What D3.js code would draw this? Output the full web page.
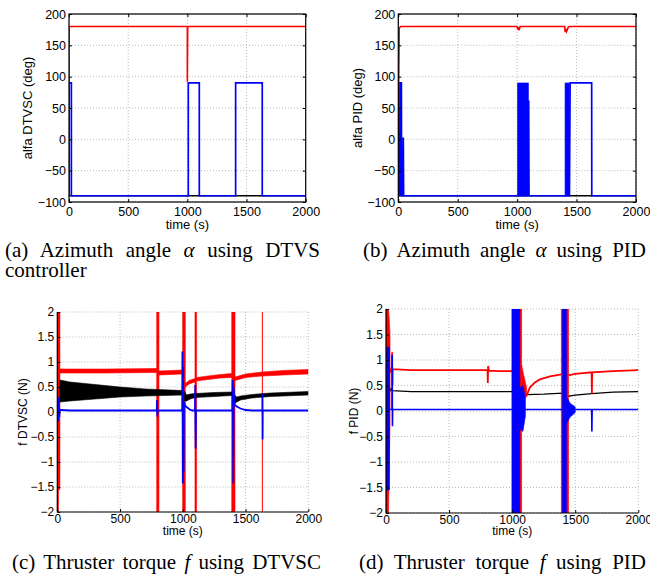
<!DOCTYPE html>
<html>
<head>
<meta charset="utf-8">
<script src="https://cdn.jsdelivr.net/npm/d3@7"></script>
<style>
  body { margin: 0; background: #fff; }
  svg { display: block; }
  .tick text { font-family: "Liberation Sans", Arial, sans-serif; fill: #000; }
  .lbl { font-family: "Liberation Sans", Arial, sans-serif; fill: #000; }
  .cap { font-family: "Liberation Serif", "Times New Roman", serif; font-size: 21px; fill: #000; }
</style>
</head>
<body>
<svg id="fig" width="650" height="577"></svg>
<script>
// ---- shared axes values ----
const timeDomain = [0, 2000];
const timeTicks = [0, 500, 1000, 1500, 2000];
const alfaTicks = [-100, -50, 0, 50, 100, 150, 200];
const forceTicks = [-2, -1.5, -1, -0.5, 0, 0.5, 1, 1.5, 2];

// ---- (a) alfa, DTVSC ----  points are [time, deg]
const dtvscAlfaBlack = [[0, -90], [2000, -90]];
const dtvscAlfaBlue = [[0, -90], [0, 90], [20, 90], [20, -90], [1008, -90], [1008, 90], [1101, 90], [1101, -90],
  [1408, -90], [1408, 90], [1633, 90], [1633, -90], [2000, -90]];
const dtvscAlfaRed = [[0, 90], [0, 180], [1000, 180], [1000, 92], [1003, 180], [2000, 180]];

// ---- (b) alfa, PID ----  bands are [time, low, high]
const pidAlfaBlack = [[0, -90], [2000, -90]];
const pidAlfaBlueBands = [
  [[2, -90, 90], [26, -90, 90]],
  [[1003, -90, 90], [1095, -90, 90]],
  [[1403, -90, 90], [1440, -90, 90]]
];
const pidAlfaBlue = [[0, -90], [2, 90], [26, 90], [28, -90], [40, -90], [42, 3], [45, -90], [1003, -90], [1095, -90],
  [1097, 62], [1100, -90], [1403, -90], [1440, -90], [1442, -25], [1446, 90], [1627, 90], [1628, -90], [2000, -90]];
const pidAlfaRed = [[0, 10], [8, 178], [20, 180], [1000, 180], [1005, 175], [1010, 179], [1016, 174], [1025, 180],
  [1400, 180], [1404, 171], [1410, 176], [1416, 172], [1430, 179], [1440, 180], [2000, 180]];

// ---- (c) f, DTVSC ----  points are [time, N]
const dtvscForceRedBands = [
  [[0, -2, 2], [9, -2, 2], [11, -1.55, 2], [21, -1.55, 2]],
  [[20, 0.78, 0.86], [400, 0.78, 0.86], [792, 0.79, 0.87]],
  [[792, -2, 2], [810, -2, 2]],
  [[810, 0.74, 0.82], [999, 0.76, 0.84]],
  [[999, -2, 2], [1020, -2, 2]],
  [[1020, 0.5, 0.57], [1050, 0.56, 0.63], [1097, 0.6, 0.67]],
  [[1097, -2, 2], [1110, -2, 2]],
  [[1110, 0.62, 0.69], [1200, 0.65, 0.72], [1300, 0.68, 0.75], [1390, 0.69, 0.77]],
  [[1390, -2, 2], [1416, -2, 2]],
  [[1416, 0.63, 0.7], [1500, 0.69, 0.76], [1633, 0.72, 0.8], [1800, 0.74, 0.83], [2000, 0.76, 0.85]]
];
const dtvscForceRedSpike = [[1634, -2], [1634, 2]];
const dtvscForceBlackBands = [
  [[20, 0.2, 0.64], [100, 0.22, 0.6], [300, 0.26, 0.55], [500, 0.3, 0.5], [700, 0.32, 0.46], [999, 0.34, 0.43]],
  [[1012, 0.22, 0.42], [1030, 0.22, 0.34], [1060, 0.26, 0.36], [1100, 0.29, 0.37], [1250, 0.31, 0.39], [1395, 0.33, 0.4]],
  [[1412, 0.16, 0.34], [1430, 0.2, 0.3], [1460, 0.24, 0.32], [1550, 0.28, 0.35], [1700, 0.31, 0.38], [2000, 0.34, 0.41]]
];
const dtvscForceBlue = [[0, 0.08], [5, 0.3], [8, -0.18], [12, 0.27], [16, -0.1], [20, 0.05], [30, 0.04], [100, 0.03],
  [792, 0.03], [795, 0.24], [797, -0.09], [800, 0.03], [995, 0.03], [997, 1.21], [1000, -1.43], [1003, 0.9],
  [1006, -1.2], [1010, 0.2], [1020, 0.12], [1040, 0.08], [1060, 0.04], [1080, 0.03], [1097, 0.03], [1099, 0.54],
  [1102, -0.73], [1105, 0.03], [1395, 0.03], [1398, 0.64], [1402, -1.43], [1405, 0.5], [1410, 0.15], [1430, 0.11],
  [1460, 0.07], [1500, 0.04], [1550, 0.03], [1634, 0.03], [1635, 0.37], [1636, -0.55], [1637, 0.03], [2000, 0.03]];

// ---- (d) f, PID ----
const pidForceRedBands = [
  [[0, -2, 2], [20, -2, 2], [26, -1.0, 1.8], [32, -0.2, 1.5]],
  [[1009, -2, 2], [1075, -2, 2]],
  [[1075, 0.25, 0.9], [1090, 0.22, 0.72], [1115, 0.28, 0.45]],
  [[1390, -2, 2], [1447, -2, 2]]
];
const pidForceRed = [
  [[32, 0.75], [40, 0.82], [47, 0.8], [49, 1.15], [51, 0.5], [53, 0.82], [200, 0.8], [500, 0.8], [805, 0.8], [807, 0.55],
    [810, 0.88], [815, 0.79], [900, 0.78], [1009, 0.78]],
  [[1115, 0.3], [1140, 0.46], [1180, 0.56], [1220, 0.62], [1300, 0.68], [1390, 0.72]],
  [[1447, 0.7], [1500, 0.73], [1630, 0.76], [1632, 0.34], [1634, 0.76], [1800, 0.78], [2000, 0.8]]
];
const pidForceBlack = [[30, 0.38], [40, 0.44], [50, 0.4], [200, 0.38], [1000, 0.38], [1050, 0.35], [1115, 0.32],
  [1250, 0.33], [1400, 0.35], [1420, 0.28], [1500, 0.31], [1630, 0.34], [1800, 0.37], [2000, 0.38]];
const pidForceBlueBands = [
  [[3, -1.55, 1.25], [28, -1.55, 1.25]],
  [[998, -2, 2], [1060, -2, 2]],
  [[1060, -0.35, 0.45], [1085, -0.4, 0.5], [1105, -0.1, 0.25]],
  [[1398, -2, 2], [1430, -2, 2]],
  [[1430, -0.25, 0.28], [1460, -0.12, 0.15], [1500, -0.03, 0.08]]
];
const pidForceBlue = [
  [[28, 0.03], [47, 0.03], [49, 1.1], [51, -0.3], [53, 0.03], [998, 0.03]],
  [[1105, 0.03], [1398, 0.03]],
  [[1500, 0.03], [1630, 0.03], [1632, -0.4], [1634, 0.03], [2000, 0.03]]
];

const RED = '#ff0000', BLUE = '#0000ff', BLACK = '#000000';

const panels = [
  { id: 'a', left: 69, top: 14, width: 236.7, height: 188, yDomain: [-100, 200], yTicks: alfaTicks,
    yLabel: 'alfa DTVSC (deg)', yLabelX: 27, boxed: true, font: 12.5, labelFont: 13, pad: 5, xlabDy: 27,
    layers: [
      { lines: [dtvscAlfaBlack], color: BLACK, w: 1.5 },
      { lines: [dtvscAlfaBlue], color: BLUE, w: 1.7 },
      { lines: [dtvscAlfaRed], color: RED, w: 1.6 }
    ] },
  { id: 'b', left: 398.3, top: 14, width: 237.7, height: 188, yDomain: [-100, 200], yTicks: alfaTicks,
    yLabel: 'alfa PID (deg)', yLabelX: 357, boxed: true, font: 12.5, labelFont: 13, pad: 5, xlabDy: 27,
    layers: [
      { lines: [pidAlfaBlack], color: BLACK, w: 1.5 },
      { bands: pidAlfaBlueBands, color: BLUE },
      { lines: [pidAlfaBlue], color: BLUE, w: 1.7 },
      { lines: [pidAlfaRed], color: RED, w: 1.6 }
    ] },
  { id: 'c', left: 57.3, top: 312, width: 251, height: 200, yDomain: [-2, 2], yTicks: forceTicks,
    yLabel: 'f DTVSC (N)', yLabelX: 23, boxed: false, font: 12, labelFont: 12, pad: 2, xlabDy: 23,
    layers: [
      { bands: dtvscForceRedBands, color: RED },
      { lines: [dtvscForceRedSpike], color: RED, w: 1 },
      { bands: dtvscForceBlackBands, color: BLACK },
      { lines: [dtvscForceBlue], color: BLUE, w: 1.8 }
    ] },
  { id: 'd', left: 386, top: 309, width: 252.3, height: 204, yDomain: [-2, 2], yTicks: forceTicks,
    yLabel: 'f PID (N)', yLabelX: 354, boxed: false, font: 12, labelFont: 12, pad: 2, xlabDy: 22,
    layers: [
      { lines: [pidForceBlack], color: BLACK, w: 1.3 },
      { bands: pidForceRedBands, color: RED },
      { lines: pidForceRed, color: RED, w: 1.8 },
      { bands: pidForceBlueBands, color: BLUE },
      { lines: pidForceBlue, color: BLUE, w: 1.6 }
    ] }
];

const svg = d3.select('#fig');
const defs = svg.append('defs');

function drawPanel(p) {
  const x = d3.scaleLinear().domain(timeDomain).range([p.left, p.left + p.width]);
  const y = d3.scaleLinear().domain(p.yDomain).range([p.top + p.height, p.top]);
  const g = svg.append('g').attr('class', 'panel-' + p.id);

  // dotted grid
  g.selectAll('.vgrid').data(timeTicks).join('line')
    .attr('x1', d => x(d)).attr('x2', d => x(d))
    .attr('y1', p.top).attr('y2', p.top + p.height)
    .attr('stroke', '#a8a8a8').attr('stroke-width', 0.8).attr('stroke-dasharray', '1,2');
  g.selectAll('.hgrid').data(p.yTicks).join('line')
    .attr('x1', p.left).attr('x2', p.left + p.width)
    .attr('y1', d => y(d)).attr('y2', d => y(d))
    .attr('stroke', '#a8a8a8').attr('stroke-width', 0.8).attr('stroke-dasharray', '1,2');

  defs.append('clipPath').attr('id', 'clip-' + p.id)
    .append('rect').attr('x', p.left).attr('y', p.top).attr('width', p.width).attr('height', p.height);
  const plot = g.append('g').attr('clip-path', `url(#clip-${p.id})`);

  const line = d3.line().x(d => x(d[0])).y(d => y(d[1]));
  const area = d3.area().x(d => x(d[0])).y0(d => y(d[1])).y1(d => y(d[2]));

  p.layers.forEach(l => {
    if (l.bands) {
      plot.append('g').selectAll('path').data(l.bands).join('path')
        .attr('d', area).attr('fill', l.color)
        .attr('stroke', l.color).attr('stroke-width', 0.6);
    } else {
      plot.append('g').selectAll('path').data(l.lines).join('path')
        .attr('d', line).attr('fill', 'none')
        .attr('stroke', l.color).attr('stroke-width', l.w);
    }
  });

  // axes, ticks pointing inward like matlab
  const xAxis = g.append('g').attr('transform', `translate(0,${p.top + p.height})`)
    .call(d3.axisBottom(x).tickValues(timeTicks).tickSize(-3).tickPadding(p.pad).tickFormat(d3.format('')));
  const yAxis = g.append('g').attr('transform', `translate(${p.left},0)`)
    .call(d3.axisLeft(y).tickValues(p.yTicks).tickSize(-3).tickPadding(3).tickFormat(d3.format('')));
  [xAxis, yAxis].forEach(a => {
    a.select('.domain').remove();
    a.selectAll('.tick line').attr('stroke', '#000');
    a.selectAll('.tick text').style('font-size', p.font + 'px');
  });

  if (p.boxed) {
    g.append('g').attr('transform', `translate(0,${p.top})`)
      .call(d3.axisTop(x).tickValues(timeTicks).tickSize(-3).tickFormat(''))
      .call(a => a.select('.domain').remove());
    g.append('g').attr('transform', `translate(${p.left + p.width},0)`)
      .call(d3.axisRight(y).tickValues(p.yTicks).tickSize(-3).tickFormat(''))
      .call(a => a.select('.domain').remove());
    g.append('rect').attr('x', p.left).attr('y', p.top).attr('width', p.width).attr('height', p.height)
      .attr('fill', 'none').attr('stroke', '#000').attr('stroke-width', 1.2);
  } else {
    g.append('path')
      .attr('d', `M${p.left},${p.top}V${p.top + p.height}H${p.left + p.width}`)
      .attr('fill', 'none').attr('stroke', '#000').attr('stroke-width', 1.2);
  }

  g.append('text').attr('class', 'lbl')
    .attr('x', p.left + p.width / 2).attr('y', p.top + p.height + p.xlabDy)
    .attr('text-anchor', 'middle').style('font-size', p.labelFont + 'px')
    .text('time (s)');
  g.append('text').attr('class', 'lbl')
    .attr('transform', `translate(${p.yLabelX},${p.top + p.height / 2}) rotate(-90)`)
    .attr('text-anchor', 'middle').attr('dy', '0.35em').style('font-size', p.labelFont + 'px')
    .text(p.yLabel);
}

panels.forEach(drawPanel);

// captions, first lines justified to the column width by widening word gaps
const captions = [
  { x: 5, y: 257, len: 315, parts: ['(a) Azimuth angle ', 'α', ' using DTVS'] },
  { x: 5, y: 277, len: null, parts: ['controller'] },
  { x: 363, y: 257, len: 283, parts: ['(b) Azimuth angle ', 'α', ' using PID'] },
  { x: 12, y: 569, len: 309, parts: ['(c) Thruster torque ', 'f', ' using DTVSC'] },
  { x: 359, y: 569, len: 287, parts: ['(d) Thruster torque ', 'f', ' using PID'] }
];
captions.forEach(c => {
  const t = svg.append('text').attr('class', 'cap').attr('x', c.x).attr('y', c.y);
  c.parts.forEach((s, i) => {
    t.append('tspan').style('font-style', i === 1 ? 'italic' : 'normal').text(s);
  });
  if (c.len) {
    const natural = t.node().getComputedTextLength();
    const gaps = c.parts.join('').split(' ').length - 1;
    t.style('word-spacing', ((c.len - natural) / gaps) + 'px');
  }
});
</script>
</body>
</html>
